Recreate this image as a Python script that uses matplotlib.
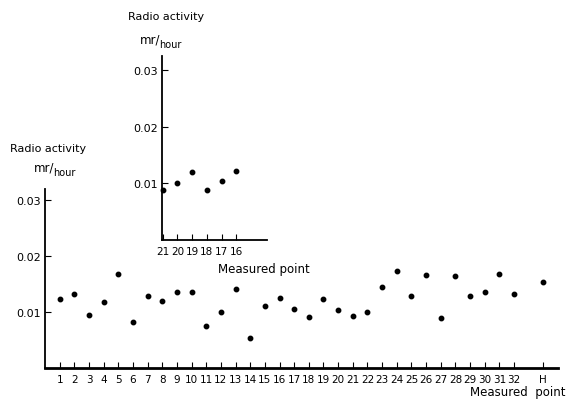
import numpy as np
import matplotlib
matplotlib.use("Agg")
import matplotlib.pyplot as plt

# main survey: measured points 1..32 and H
main_labels = [str(i) for i in range(1, 33)] + ["H"]
main_pos = list(range(1, 33)) + [34]
main_vals = [0.0124, 0.0132, 0.0095, 0.0118, 0.0168, 0.0083, 0.0129, 0.0119,
             0.0135, 0.0135, 0.0075, 0.0101, 0.0141, 0.0054, 0.0111, 0.0125,
             0.0106, 0.0092, 0.0124, 0.0104, 0.0093, 0.0101, 0.0144, 0.0173,
             0.0128, 0.0167, 0.0089, 0.0164, 0.0129, 0.0136, 0.0168, 0.0132,
             0.0153]

# inset: points 21..16
inset_labels = ["21", "20", "19", "18", "17", "16"]
inset_vals = [0.0088, 0.0100, 0.0120, 0.0089, 0.0104, 0.0121]

yticks = [0.01, 0.02, 0.03]
ytick_labels = ["0.01", "0.02", "0.03"]

fig = plt.figure(figsize=(5.78, 4.06), dpi=100)
fig.patch.set_facecolor("white")


def style_axes(ax, lw_bottom=1.6):
    ax.spines["top"].set_visible(False)
    ax.spines["right"].set_visible(False)
    ax.spines["left"].set_linewidth(1.3)
    ax.spines["bottom"].set_linewidth(lw_bottom)
    ax.tick_params(axis="x", direction="in", length=4, width=0.8, pad=4, labelsize=7.5)
    ax.tick_params(axis="y", direction="in", length=4, width=0.8, pad=3, labelsize=8)
    ax.set_facecolor("none")


# main chart
ax = fig.add_axes([45 / 578, 1 - 369 / 406, 513 / 578, 179 / 406])
ax.plot(main_pos, main_vals, "o", color="black", markersize=3.2)
ax.set_xlim(0, 35)
ax.set_ylim(0, 0.032)
ax.set_xticks(main_pos)
ax.set_xticklabels(main_labels)
ax.set_yticks(yticks)
ax.set_yticklabels(ytick_labels)
style_axes(ax, lw_bottom=2.0)

fig.text(10 / 578, 1 - 149 / 406, "Radio activity", fontsize=8, va="center", ha="left")
fig.text(34 / 578, 1 - 168 / 406, "mr/", fontsize=8.5, va="center", ha="left")
fig.text(53 / 578, 1 - 173 / 406, "hour", fontsize=7, va="center", ha="left")
fig.text(470 / 578, 1 - 393 / 406, "Measured  point", fontsize=8.5, va="center", ha="left")

# inset chart
axi = fig.add_axes([161.7 / 578, 1 - 241 / 406, 105 / 578, 184 / 406])
inset_pos = np.arange(len(inset_labels))
axi.plot(inset_pos, inset_vals, "o", color="black", markersize=3.2, clip_on=False)
axi.set_xlim(-0.07, 7.07)
axi.set_ylim(0, 0.0325)
axi.set_xticks(inset_pos)
axi.set_xticklabels(inset_labels)
axi.set_yticks(yticks)
axi.set_yticklabels(ytick_labels)
style_axes(axi, lw_bottom=1.3)

fig.text(128 / 578, 1 - 17 / 406, "Radio activity", fontsize=8, va="center", ha="left")
fig.text(140 / 578, 1 - 40 / 406, "mr/", fontsize=8.5, va="center", ha="left")
fig.text(159 / 578, 1 - 45 / 406, "hour", fontsize=7, va="center", ha="left")
fig.text(218 / 578, 1 - 269 / 406, "Measured point", fontsize=8.5, va="center", ha="left")

fig.savefig("out.png", dpi=100)
